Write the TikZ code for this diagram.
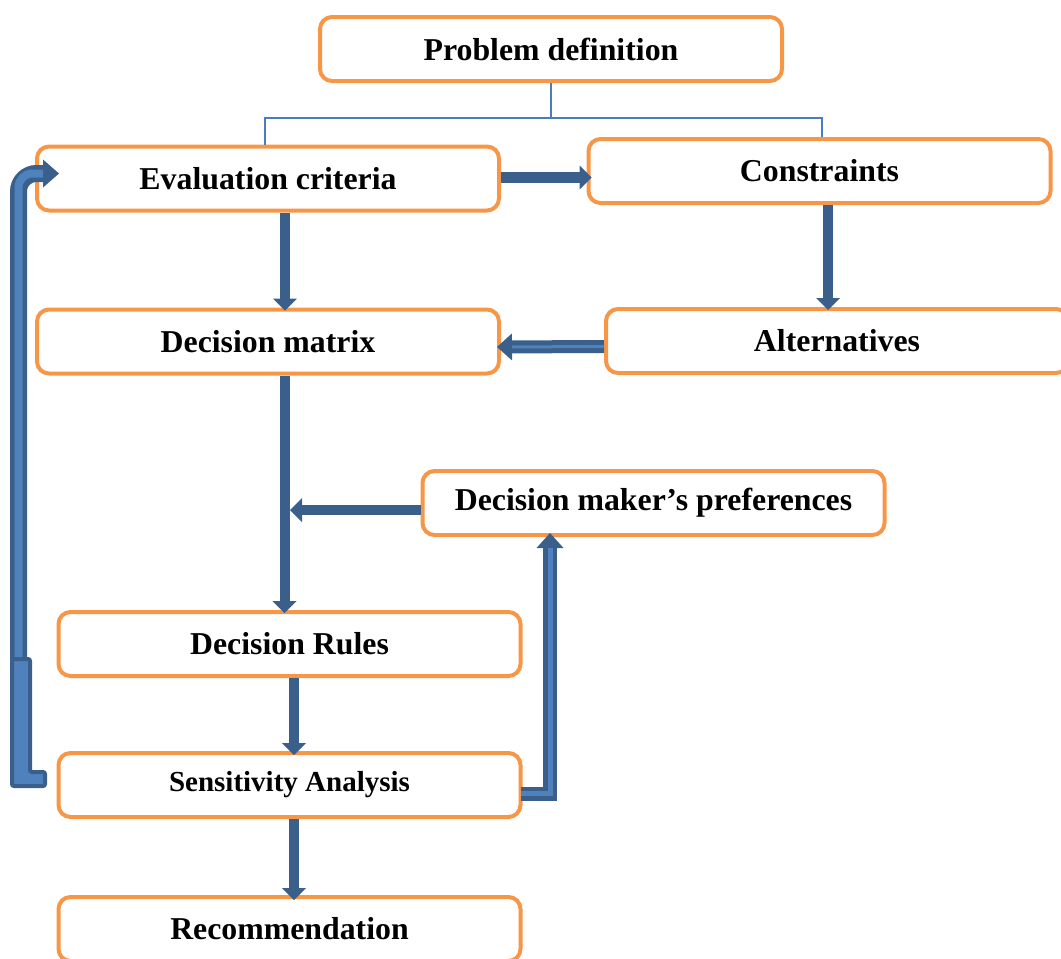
\documentclass[tikz,border=0pt]{standalone}
\usepackage{fontspec}
\setmainfont{Liberation Serif}
\usepackage{xcolor}
\usepackage{tikz}
\usetikzlibrary{arrows.meta,positioning,calc}
\definecolor{Orange}{HTML}{F79646}
\definecolor{Navy}{HTML}{3A5F8B}
\definecolor{LightBlue}{HTML}{4F81BD}
\definecolor{TreeBlue}{HTML}{4A7EBB}
\tikzset{
  box/.style={draw=Orange,line width=4pt,rounded corners=12pt,fill=white,align=center,
              minimum width=462pt,minimum height=64pt,inner sep=3pt,
              font=\bfseries\fontsize{31.8}{36}\selectfont},
  flow/.style={-{Triangle[length=12pt,width=24pt,line width=0pt]},line width=10pt,draw=Navy},
  wideflow/.style={-{Triangle[length=15pt,width=27pt,line width=0pt]},line width=13pt,draw=Navy},
  stripe/.style={line width=#1,draw=LightBlue},
  tree/.style={draw=TreeBlue,line width=2pt},
  bar/.style={draw=Navy,line width=4pt,fill=LightBlue,rounded corners=2pt}
}
\begin{document}
\begin{tikzpicture}[x=1pt,y=-1pt]
  \useasboundingbox (0,0) rectangle (1061,959);
  \node[box] (prob) at (551,49) {Problem definition};
  \node[box] (eval) at (268,178.5) {Evaluation criteria};
  \node[box] (cons) at (819.5,171) {Constraints};
  \node[box,below=95pt of eval] (matrix) {Decision matrix};
  \node[box,below=102pt of cons,xshift=17.5pt] (alt) {Alternatives};
  \node[box] (pref) at (653.5,503) {Decision maker’s preferences};
  \node[box] (rules) at (289.5,644) {Decision Rules};
  \node[box,below=73pt of rules,font=\bfseries\fontsize{29}{33}\selectfont] (sens) {Sensitivity Analysis};
  \node[box,below=76pt of sens] (rec) {Recommendation};

  % problem definition splits into criteria and constraints
  \coordinate (fork) at ($(prob.south)+(0,35)$);
  \draw[tree] (prob.south) -- (fork);
  \draw[tree] ($(eval.north)+(-3,0)$) |- (fork) -| ($(cons.north)+(2.5,0)$);

  \draw[flow,line width=11pt] ($(eval.east)+(0,-1)$) -- ($(eval.east -| cons.west)+(5,-1)$);
  \draw[flow] ($(eval.south)+(17,0)$) -- ($(matrix.north)+(17,3)$);
  \draw[flow] ($(cons.south)+(8.5,0)$) -- ($(alt.north)+(-9,3)$);
  \draw[wideflow] ($(alt.west)+(0,5.5)$) -- ($(matrix.east)+(-4,5.5)$);
  \draw[stripe=3pt,shorten >=15pt] ($(alt.west)+(0,5.5)$) -- ($(matrix.east)+(-4,5.5)$);
  \draw[flow] ($(matrix.south)+(16.5,0)$) -- ($(rules.north)+(-5,3)$);
  \coordinate (join) at (290,510);
  \draw[flow] ($(pref.west)+(0,7)$) -- (join);
  \draw[flow] ($(rules.south)+(4.5,0)$) -- ($(sens.north)+(4.5,4)$);
  \draw[flow] ($(sens.south)+(4.5,0)$) -- ($(rec.north)+(4.5,5)$);

  % sensitivity feeds back to preferences
  \draw[wideflow,line width=14pt] ($(sens.east)+(-2,8.5)$) -| ($(pref.south)+(-103.5,-4)$);
  \draw[stripe=5pt,shorten >=15pt] ($(sens.east)+(-2,8.5)$) -| ($(pref.south)+(-103.5,-4)$);

  % loop back to the criteria
  \coordinate (loop) at (18.5,700);
  \draw[wideflow,line width=17pt,rounded corners=18pt,-{Triangle[length=16pt,width=28pt,line width=0pt]}]
    (loop) |- ($(eval.west)+(24,-5)$);
  \draw[stripe=8pt,rounded corners=14pt,shorten >=16pt] (loop) |- ($(eval.west)+(24,-5)$);
  \draw[bar] (45,772) -- (45,786) -- (12,786) -- (12,659) -- (30,659) -- (30,772) -- cycle;
\end{tikzpicture}
\end{document}
